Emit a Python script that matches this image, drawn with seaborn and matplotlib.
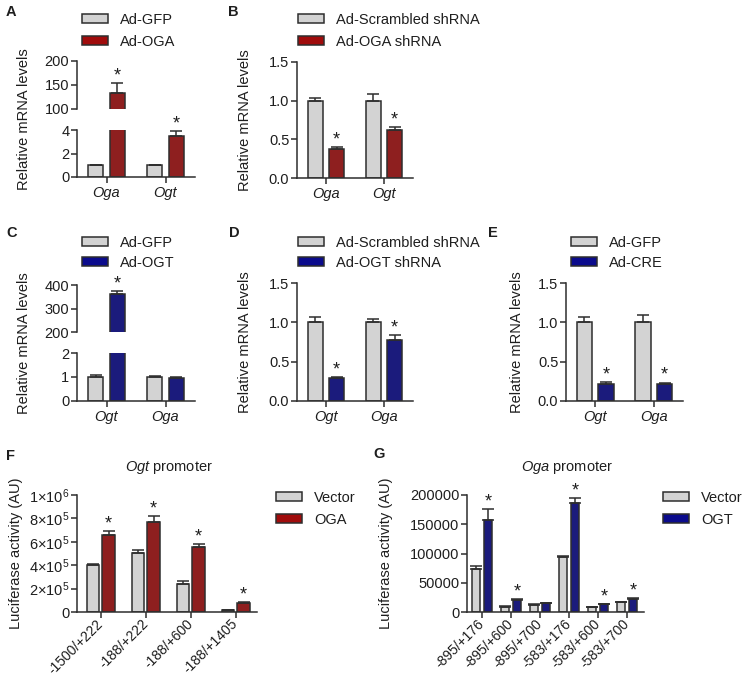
import matplotlib
matplotlib.use('Agg')
import matplotlib.pyplot as plt
import matplotlib.patches as mpatches
import seaborn as sns
import pandas as pd

# ---- data ----
A_GENES = ['Oga', 'Ogt']
A_LABELS = ['Ad-GFP', 'Ad-OGA']
A_CTRL = [1.0, 1.0]
A_CTRL_ERR = [0.03, 0.03]
A_TREAT = [133.0, 3.5]
A_TREAT_ERR = [22.0, 0.38]
A_STARS = [True, True]

B_GENES = ['Oga', 'Ogt']
B_LABELS = ['Ad-Scrambled shRNA', 'Ad-OGA shRNA']
B_CTRL = [1.0, 1.0]
B_CTRL_ERR = [0.04, 0.08]
B_TREAT = [0.38, 0.62]
B_TREAT_ERR = [0.02, 0.04]
B_STARS = [True, True]

C_GENES = ['Ogt', 'Oga']
C_LABELS = ['Ad-GFP', 'Ad-OGT']
C_CTRL = [1.0, 1.0]
C_CTRL_ERR = [0.08, 0.04]
C_TREAT = [360.0, 0.97]
C_TREAT_ERR = [15.0, 0.02]
C_STARS = [True, False]

D_GENES = ['Ogt', 'Oga']
D_LABELS = ['Ad-Scrambled shRNA', 'Ad-OGT shRNA']
D_CTRL = [1.0, 1.0]
D_CTRL_ERR = [0.07, 0.04]
D_TREAT = [0.29, 0.77]
D_TREAT_ERR = [0.015, 0.065]
D_STARS = [True, True]

E_GENES = ['Ogt', 'Oga']
E_LABELS = ['Ad-GFP', 'Ad-CRE']
E_CTRL = [1.0, 1.0]
E_CTRL_ERR = [0.07, 0.09]
E_TREAT = [0.22, 0.22]
E_TREAT_ERR = [0.02, 0.015]
E_STARS = [True, True]

F_CONSTRUCTS = ['-1500/+222', '-188/+222', '-188/+600', '-188/+1405']
F_LABELS = ['Vector', 'OGA']
F_CTRL = [400000, 508000, 243000, 18000]
F_CTRL_ERR = [9000, 24000, 20000, 3000]
F_TREAT = [662000, 770000, 552000, 78000]
F_TREAT_ERR = [33000, 50000, 30000, 4000]
F_STARS = [True, True, True, True]
F_YTICKS = [0, 2e5, 4e5, 6e5, 8e5, 1e6]
F_YTICKLABELS = ['0', r'$2{\times}10^{5}$', r'$4{\times}10^{5}$',
                 r'$6{\times}10^{5}$', r'$8{\times}10^{5}$', r'$1{\times}10^{6}$']

G_CONSTRUCTS = ['-895/+176', '-895/+600', '-895/+700', '-583/+176', '-583/+600', '-583/+700']
G_LABELS = ['Vector', 'OGT']
G_CTRL = [73600, 9200, 12600, 93700, 8600, 16700]
G_CTRL_ERR = [5700, 1000, 700, 2800, 600, 700]
G_TREAT = [158000, 21300, 14900, 185600, 13200, 23000]
G_TREAT_ERR = [17300, 1100, 700, 9800, 700, 700]
G_STARS = [True, True, False, True, True, True]
G_YTICKS = [0, 50000, 100000, 150000, 200000]

# ---- style ----
W, H = 745, 680
GREY = '#d3d3d3'
EDGE = '#2e2e2e'
RED = '#a00c0c'
BLUE = '#0b0b8c'
TEXT = '#1e1e1e'
FS = 10.5

sns.set_style('ticks')
plt.rcParams['font.family'] = ['Liberation Sans', 'DejaVu Sans']
plt.rcParams['mathtext.fontset'] = 'custom'
plt.rcParams['mathtext.rm'] = 'Liberation Sans'
plt.rcParams['mathtext.it'] = 'Liberation Sans:italic'
plt.rcParams['text.color'] = TEXT


def px_axes(fig, left, top, right, bottom):
    return fig.add_axes([left / W, 1 - bottom / H, (right - left) / W, (bottom - top) / H])


def make_df(cats, labels, ctrl, treat):
    rows = []
    for cat, c, t in zip(cats, ctrl, treat):
        rows.append({'Cat': cat, 'Group': labels[0], 'Value': c})
        rows.append({'Cat': cat, 'Group': labels[1], 'Value': t})
    return pd.DataFrame(rows)


def draw_bars(ax, cats, labels, ctrl, ctrl_err, treat, treat_err, stars, color, width, gap):
    df = make_df(cats, labels, ctrl, treat)
    sns.barplot(data=df, x='Cat', y='Value', hue='Group', order=cats, hue_order=labels,
                palette={labels[0]: GREY, labels[1]: color}, width=width, gap=gap,
                edgecolor=EDGE, linewidth=1.1, errorbar=None, legend=False, ax=ax)
    flags = [[False] * len(cats), stars]
    for container, errs, marks in zip(ax.containers, [ctrl_err, treat_err], flags):
        for bar, e, mark in zip(container, errs, marks):
            x = bar.get_x() + bar.get_width() / 2
            top = bar.get_height()
            ax.errorbar(x, top, yerr=[[0], [e]], fmt='none', ecolor=EDGE,
                        elinewidth=1.1, capsize=4, capthick=1.1)
            if mark:
                ax.annotate('*', xy=(x, top + e), xytext=(0, -1), textcoords='offset points',
                            ha='center', va='bottom', fontsize=13, color=TEXT)


def style_axes(ax, xlim, ylim, yticks, rotate=False, italic=False, labels=None):
    ax.set_xlim(*xlim)
    ax.set_ylim(*ylim)
    ax.set_yticks(yticks)
    if labels is not None:
        ax.set_yticklabels(labels)
    ax.set_xlabel('')
    ax.set_ylabel('')
    sns.despine(ax=ax)
    for side in ['left', 'bottom']:
        ax.spines[side].set_linewidth(1.1)
        ax.spines[side].set_color(EDGE)
    ax.tick_params(direction='out', length=4, width=1.1, color=EDGE,
                   labelsize=FS, labelcolor=TEXT, pad=1.5)
    ax.tick_params(axis='x', pad=2.5)
    if rotate:
        ax.tick_params(axis='x', pad=3, labelsize=10)
        plt.setp(ax.get_xticklabels(), rotation=45, ha='right', va='center',
                 rotation_mode='anchor')
    if italic:
        plt.setp(ax.get_xticklabels(), fontstyle='italic')


def top_segment(ax, xlim, ylim, yticks):
    style_axes(ax, xlim, ylim, yticks)
    ax.spines['bottom'].set_visible(False)
    ax.set_xticks([])


def add_legend(fig, labels, color, x, y, spacing):
    handles = [mpatches.Patch(facecolor=GREY, edgecolor=EDGE, linewidth=1.1),
               mpatches.Patch(facecolor=color, edgecolor=EDGE, linewidth=1.1)]
    fig.legend(handles, labels, loc='upper left', bbox_to_anchor=(x / W, 1 - (y - 8) / H),
               frameon=False, fontsize=FS, borderpad=0, borderaxespad=0,
               handlelength=1.75, handleheight=0.55, handletextpad=0.85, labelspacing=spacing)


def add_ylabel(fig, text, x, y):
    fig.text(x / W, 1 - y / H, text, rotation=90, ha='center', va='center', fontsize=FS)


def add_letter(fig, letter, x, y):
    fig.text(x / W, 1 - y / H, letter, ha='left', va='top', fontsize=10.5, fontweight='bold')


fig = plt.figure(figsize=(W / 100, H / 100), dpi=100)
fig.patch.set_facecolor('white')
MRNA_XLIM = (-0.5, 1.5)

# A (broken axis)
ax_a_top = px_axes(fig, 77, 61, 195, 109)
ax_a_bot = px_axes(fig, 77, 130, 195, 177)
for ax in (ax_a_top, ax_a_bot):
    draw_bars(ax, A_GENES, A_LABELS, A_CTRL, A_CTRL_ERR, A_TREAT, A_TREAT_ERR, A_STARS, RED, 0.74, 0.29)
top_segment(ax_a_top, MRNA_XLIM, (100, 200), [100, 150, 200])
style_axes(ax_a_bot, MRNA_XLIM, (0, 4), [0, 2, 4], italic=True)

# B
ax_b = px_axes(fig, 297, 62, 413, 178)
draw_bars(ax_b, B_GENES, B_LABELS, B_CTRL, B_CTRL_ERR, B_TREAT, B_TREAT_ERR, B_STARS, RED, 0.74, 0.29)
style_axes(ax_b, MRNA_XLIM, (0, 1.5), [0.0, 0.5, 1.0, 1.5], italic=True,
           labels=['0.0', '0.5', '1.0', '1.5'])

# C (broken axis)
ax_c_top = px_axes(fig, 77, 285, 195, 332)
ax_c_bot = px_axes(fig, 77, 353, 195, 401)
for ax in (ax_c_top, ax_c_bot):
    draw_bars(ax, C_GENES, C_LABELS, C_CTRL, C_CTRL_ERR, C_TREAT, C_TREAT_ERR, C_STARS, BLUE, 0.74, 0.29)
top_segment(ax_c_top, MRNA_XLIM, (200, 400), [200, 300, 400])
style_axes(ax_c_bot, MRNA_XLIM, (0, 2), [0, 1, 2], italic=True)

# D
ax_d = px_axes(fig, 297, 283, 413, 401)
draw_bars(ax_d, D_GENES, D_LABELS, D_CTRL, D_CTRL_ERR, D_TREAT, D_TREAT_ERR, D_STARS, BLUE, 0.74, 0.29)
style_axes(ax_d, MRNA_XLIM, (0, 1.5), [0.0, 0.5, 1.0, 1.5], italic=True,
           labels=['0.0', '0.5', '1.0', '1.5'])

# E
ax_e = px_axes(fig, 566, 283, 683, 401)
draw_bars(ax_e, E_GENES, E_LABELS, E_CTRL, E_CTRL_ERR, E_TREAT, E_TREAT_ERR, E_STARS, BLUE, 0.74, 0.29)
style_axes(ax_e, MRNA_XLIM, (0, 1.5), [0.0, 0.5, 1.0, 1.5], italic=True,
           labels=['0.0', '0.5', '1.0', '1.5'])

# F
ax_f = px_axes(fig, 77, 495, 257, 612)
draw_bars(ax_f, F_CONSTRUCTS, F_LABELS, F_CTRL, F_CTRL_ERR, F_TREAT, F_TREAT_ERR, F_STARS, RED, 0.69, 0.19)
style_axes(ax_f, (-0.53, 3.47), (0, 1e6), F_YTICKS, rotate=True, labels=F_YTICKLABELS)

# G
ax_g = px_axes(fig, 467, 495, 644, 612)
draw_bars(ax_g, G_CONSTRUCTS, G_LABELS, G_CTRL, G_CTRL_ERR, G_TREAT, G_TREAT_ERR, G_STARS, BLUE, 0.8, 0.32)
style_axes(ax_g, (-0.52, 5.58), (0, 200000), G_YTICKS, rotate=True,
           labels=[str(v) for v in G_YTICKS])

# promoter titles
fig.text(169 / W, 1 - 468 / H, r'$\it{Ogt}$ promoter', ha='center', va='center', fontsize=FS)
fig.text(567 / W, 1 - 468 / H, r'$\it{Oga}$ promoter', ha='center', va='center', fontsize=FS)

# legends
add_legend(fig, A_LABELS, RED, 82, 21, 0.55)
add_legend(fig, B_LABELS, RED, 298, 21, 0.55)
add_legend(fig, C_LABELS, BLUE, 82, 244, 0.4)
add_legend(fig, D_LABELS, BLUE, 298, 244, 0.4)
add_legend(fig, E_LABELS, BLUE, 571, 244, 0.4)
add_legend(fig, F_LABELS, RED, 276, 499, 0.55)
add_legend(fig, G_LABELS, BLUE, 663, 499, 0.55)

# y labels
for x, y in [(24, 119), (245, 120), (24, 343), (245, 342), (517, 342)]:
    add_ylabel(fig, 'Relative mRNA levels', x, y)
add_ylabel(fig, 'Luciferase activity (AU)', 16, 553)
add_ylabel(fig, 'Luciferase activity (AU)', 386, 553)

# panel letters
for letter, x, y in [('A', 6, 5), ('B', 228, 5), ('C', 6, 226), ('D', 229, 226),
                     ('E', 488, 226), ('F', 6, 449), ('G', 373, 447)]:
    add_letter(fig, letter, x, y)

fig.savefig('out.png', dpi=100)
